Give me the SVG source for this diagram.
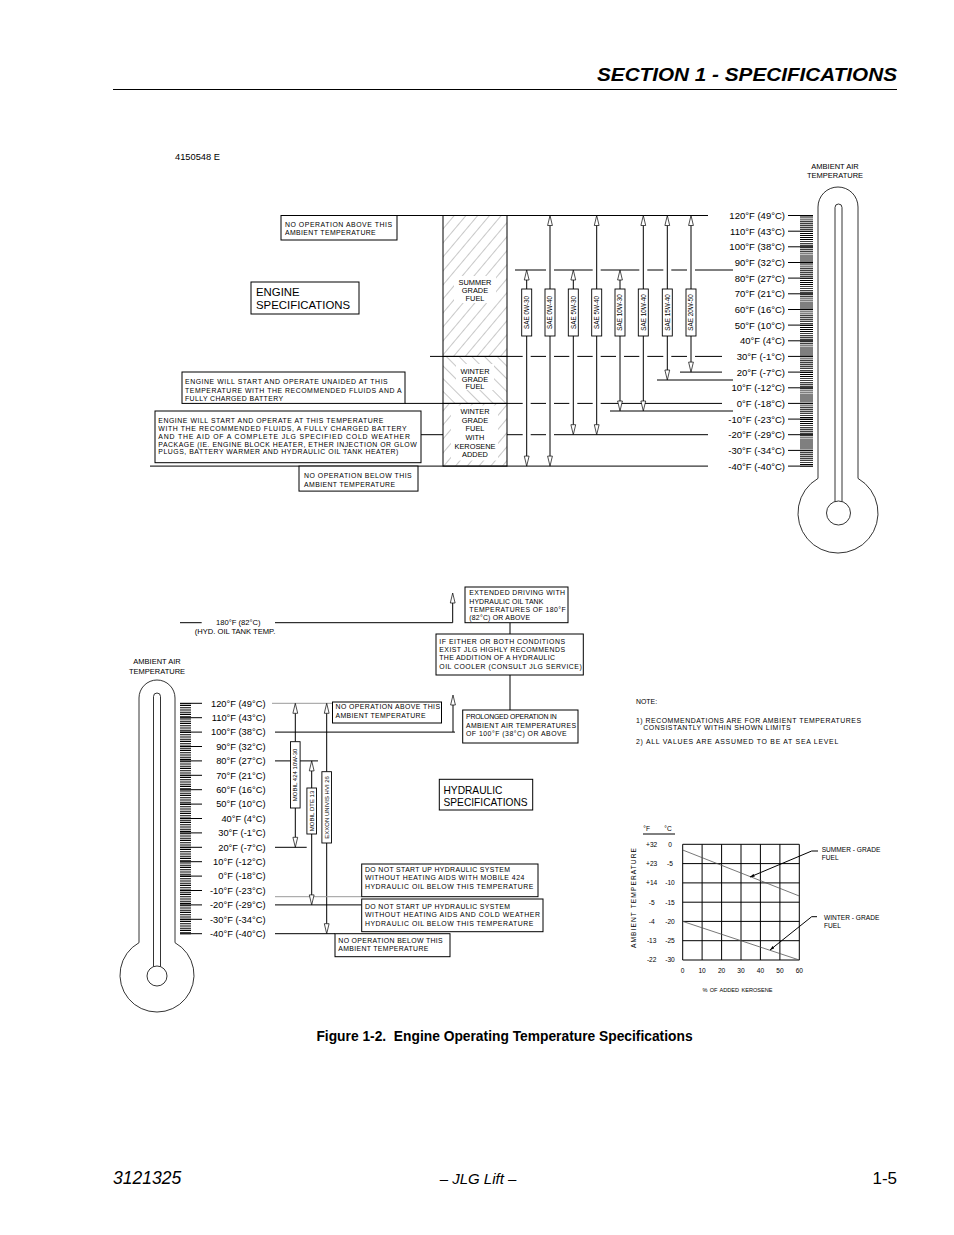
<svg xmlns="http://www.w3.org/2000/svg" width="954" height="1235" viewBox="0 0 954 1235">
<defs>
<style>
text{font-family:"Liberation Sans",Arial,sans-serif;fill:#000}
.ln{stroke:#000;stroke-width:1;fill:none}
.gl{stroke:#9a9a9a;stroke-width:1;fill:none}
.bx{fill:#fff;stroke:#000;stroke-width:1}
.bar{fill:#fff;stroke:#000;stroke-width:0.9}
.s{font-size:6.9px}
.tl{font-size:9.5px;text-anchor:end}
.th{font-size:9.3px;text-anchor:end}
.col{font-size:7.4px;text-anchor:middle}
.sae{font-size:6.3px;text-anchor:middle}
.big{font-size:11.4px}
.c{font-size:6.6px;text-anchor:middle}
.amb{font-size:7.5px;text-anchor:middle}
.therm{fill:none;stroke:#000;stroke-width:0.8}
.ch{stroke:#000;stroke-width:1;fill:none}
.cl{stroke:#555;stroke-width:0.8;fill:none}
</style>
<path id="au" d="M0,0 L2.4,10 L-2.4,10 Z" fill="#fff" stroke="#000" stroke-width="0.7"/>
<path id="ad" d="M0,0 L2.4,-10 L-2.4,-10 Z" fill="#fff" stroke="#000" stroke-width="0.7"/>
<pattern id="hf" width="9" height="9" patternUnits="userSpaceOnUse" patternTransform="rotate(40)">
<line x1="0" y1="0" x2="0" y2="9" stroke="#444" stroke-width="0.6"/>
</pattern>
<pattern id="hb" width="9" height="9" patternUnits="userSpaceOnUse" patternTransform="rotate(-45)">
<line x1="0" y1="0" x2="0" y2="9" stroke="#444" stroke-width="0.6"/>
</pattern>
<marker id="sm" viewBox="0 0 6 4" refX="6" refY="2" markerWidth="5" markerHeight="3" orient="auto" markerUnits="userSpaceOnUse">
<path d="M0,0 L6,2 L0,4 Z" fill="#000"/>
</marker>
</defs>
<rect width="954" height="1235" fill="#fff"/>

<g id="page">
<text x="897" y="81" font-size="19" font-weight="bold" font-style="italic" text-anchor="end" textLength="300" lengthAdjust="spacingAndGlyphs">SECTION 1 - SPECIFICATIONS</text>
<line x1="113" y1="89.5" x2="897" y2="89.5" stroke="#000" stroke-width="1"/>
<text x="504.5" y="1041" text-anchor="middle" font-size="13.8" font-weight="bold" xml:space="preserve">Figure 1-2.  Engine Operating Temperature Specifications</text>
<text x="113" y="1184" font-size="17.5" font-style="italic">3121325</text>
<text x="478" y="1184" text-anchor="middle" font-size="15" font-style="italic">– JLG Lift –</text>
<text x="897" y="1184" text-anchor="end" font-size="17">1-5</text>
<text x="175" y="160" font-size="9.3">4150548 E</text>
</g>

<!-- ENGINE CONNECTORS -->
<g id="engine-connectors" class="ln">
<path d="M397,215.5 H708"/>
<path d="M515,270 H546 M554,270 H592.7 M600.7,270 H639.3 M647.3,270 H663.3 M671.3,270 H687 M695,270 H733"/>
<path d="M430,356.4 H443 M507,356.4 H522.7 M530.7,356.4 H546 M554,356.4 H569.3 M577.3,356.4 H592.7 M600.7,356.4 H616 M624,356.4 H639.3 M647.3,356.4 H663.3 M671.3,356.4 H687 M695,356.4 H722"/>
<path d="M680,372.1 H722"/>
<path d="M657,380 H733"/>
<path d="M405,403.4 H443 M507,403.4 H522.7 M530.7,403.4 H546 M554,403.4 H569.3 M577.3,403.4 H592.7 M600.7,403.4 H722"/>
<path d="M610,411 H733"/>
<path d="M421,434.7 H443 M507,434.7 H522.7 M530.7,434.7 H546 M554,434.7 H708"/>
<path d="M150,466.1 H708"/>
<path d="M526.7,280 V289 M526.7,336 V456.1"/>
<path d="M550,225.5 V289 M550,336 V456.1"/>
<path d="M573.3,280 V289 M573.3,336 V424.7"/>
<path d="M596.7,225.5 V289 M596.7,336 V424.7"/>
<path d="M620,280 V289 M620,336 V401"/>
<path d="M643.3,225.5 V289 M643.3,336 V401"/>
<path d="M667.3,225.5 V289 M667.3,336 V370"/>
<path d="M691,225.5 V289 M691,336 V362.1"/>
</g>
<g id="engine-arrows">
<use href="#au" x="526.7" y="270"/>
<use href="#au" x="550" y="215.5"/>
<use href="#au" x="573.3" y="270"/>
<use href="#au" x="596.7" y="215.5"/>
<use href="#au" x="620" y="270"/>
<use href="#au" x="643.3" y="215.5"/>
<use href="#au" x="667.3" y="215.5"/>
<use href="#au" x="691" y="215.5"/>
<use href="#ad" x="526.7" y="466.1"/>
<use href="#ad" x="550" y="466.1"/>
<use href="#ad" x="573.3" y="434.7"/>
<use href="#ad" x="596.7" y="434.7"/>
<use href="#ad" x="620" y="411"/>
<use href="#ad" x="643.3" y="411"/>
<use href="#ad" x="667.3" y="380"/>
<use href="#ad" x="691" y="372.1"/>
</g>

<!-- SAE bars -->
<g id="sae-0w30"><rect class="bar" x="521.7" y="289" width="10" height="47"/><text class="sae" transform="translate(528.9,312.5) rotate(-90)">SAE 0W-30</text></g>
<g id="sae-0w40"><rect class="bar" x="545" y="289" width="10" height="47"/><text class="sae" transform="translate(552.2,312.5) rotate(-90)">SAE 0W-40</text></g>
<g id="sae-5w30"><rect class="bar" x="568.3" y="289" width="10" height="47"/><text class="sae" transform="translate(575.5,312.5) rotate(-90)">SAE 5W-30</text></g>
<g id="sae-5w40"><rect class="bar" x="591.7" y="289" width="10" height="47"/><text class="sae" transform="translate(598.9,312.5) rotate(-90)">SAE 5W-40</text></g>
<g id="sae-10w30"><rect class="bar" x="615" y="289" width="10" height="47"/><text class="sae" transform="translate(622.2,312.5) rotate(-90)">SAE 10W-30</text></g>
<g id="sae-10w40"><rect class="bar" x="638.3" y="289" width="10" height="47"/><text class="sae" transform="translate(645.5,312.5) rotate(-90)">SAE 10W-40</text></g>
<g id="sae-15w40"><rect class="bar" x="662.3" y="289" width="10" height="47"/><text class="sae" transform="translate(669.5,312.5) rotate(-90)">SAE 15W-40</text></g>
<g id="sae-20w50"><rect class="bar" x="686" y="289" width="10" height="47"/><text class="sae" transform="translate(693.2,312.5) rotate(-90)">SAE 20W-50</text></g>

<!-- Fuel column -->
<g id="fuel-summer">
<rect x="443" y="215.5" width="64" height="140.9" fill="url(#hf)" stroke="#000" stroke-width="1"/>
<rect x="454" y="276" width="42" height="27" fill="#fff"/>
<text class="col" x="475" y="285.2">SUMMER</text>
<text class="col" x="475" y="293.2">GRADE</text>
<text class="col" x="475" y="301.2">FUEL</text>
</g>
<g id="fuel-winter">
<rect x="443" y="356.4" width="64" height="47" fill="url(#hb)" stroke="#000" stroke-width="1"/>
<rect x="456" y="364" width="38" height="26" fill="#fff"/>
<text class="col" x="475" y="373.5">WINTER</text>
<text class="col" x="475" y="381.5">GRADE</text>
<text class="col" x="475" y="389.2">FUEL</text>
</g>
<g id="fuel-kerosene">
<rect x="443" y="403.4" width="64" height="62.7" fill="url(#hf)" stroke="#000" stroke-width="1"/>
<rect x="451" y="405.5" width="47" height="55" fill="#fff"/>
<text class="col" x="475" y="414.2">WINTER</text>
<text class="col" x="475" y="422.5">GRADE</text>
<text class="col" x="475" y="430.8">FUEL</text>
<text class="col" x="475" y="439.8">WITH</text>
<text class="col" x="475" y="448.5">KEROSENE</text>
<text class="col" x="475" y="456.8">ADDED</text>
</g>

<!-- Engine boxes -->
<g id="eng-no-op-above">
<rect class="bx" x="281" y="215.5" width="116" height="24.5"/>
<text class="s" x="285" y="226.5" textLength="107" lengthAdjust="spacing">NO OPERATION ABOVE THIS</text>
<text class="s" x="285" y="234.8" textLength="90.7" lengthAdjust="spacing">AMBIENT TEMPERATURE</text>
</g>
<g id="engine-spec">
<rect class="bx" x="251" y="282" width="108" height="32"/>
<text class="big" x="256" y="296">ENGINE</text>
<text class="big" x="256" y="309.3">SPECIFICATIONS</text>
</g>
<g id="eng-unaided">
<rect class="bx" x="182" y="372" width="223" height="31.4"/>
<text class="s" x="185" y="384.2" textLength="202.7" lengthAdjust="spacing">ENGINE WILL START AND OPERATE UNAIDED AT THIS</text>
<text class="s" x="185" y="392.5" textLength="216.7" lengthAdjust="spacing">TEMPERATURE WITH THE RECOMMENDED FLUIDS AND A</text>
<text class="s" x="185" y="400.8" textLength="98" lengthAdjust="spacing">FULLY CHARGED BATTERY</text>
</g>
<g id="eng-cold-package">
<rect class="bx" x="155" y="411" width="266" height="51.7"/>
<text class="s" x="158.3" y="422.5" textLength="225" lengthAdjust="spacing">ENGINE WILL START AND OPERATE AT THIS TEMPERATURE</text>
<text class="s" x="158.3" y="430.8" textLength="248.4" lengthAdjust="spacing">WITH THE RECOMMENDED FLUIDS, A FULLY CHARGED BATTERY</text>
<text class="s" x="158.3" y="439.2" textLength="251.7" lengthAdjust="spacing">AND THE AID OF A COMPLETE JLG SPECIFIED COLD WEATHER</text>
<text class="s" x="158.3" y="446.5" textLength="258.4" lengthAdjust="spacing">PACKAGE (IE. ENGINE BLOCK HEATER, ETHER INJECTION OR GLOW</text>
<text class="s" x="158.3" y="454.2" textLength="240" lengthAdjust="spacing">PLUGS, BATTERY WARMER AND HYDRAULIC OIL TANK HEATER)</text>
</g>
<g id="eng-no-op-below">
<rect class="bx" x="299" y="466.1" width="119" height="25"/>
<text class="s" x="304" y="477.5" textLength="107.7" lengthAdjust="spacing">NO OPERATION BELOW THIS</text>
<text class="s" x="304" y="486.5" textLength="91" lengthAdjust="spacing">AMBIENT TEMPERATURE</text>
</g>

<!-- Engine thermometer -->
<g id="engine-thermometer">
<text class="amb" x="835" y="168.7">AMBIENT AIR</text>
<text class="amb" x="835" y="177.7">TEMPERATURE</text>
<path class="therm" d="M818,478.4 V207 A20,20 0 0 1 858,207 V478.4 A40,40 0 1 1 818,478.4"/>
<path class="therm" d="M835,501.4 V207.5 A3.5,3.5 0 0 1 842,207.5 V501.4"/>
<circle class="therm" cx="838.5" cy="513" r="12"/>
<line x1="806.5" y1="215.5" x2="806.5" y2="466.6" stroke="#000" stroke-width="13" stroke-dasharray="0.9 1.0575"/>
<path class="ln" d="M788,215.5 H813 M788,231.2 H813 M788,246.8 H813 M788,262.5 H813 M788,278.1 H813 M788,293.8 H813 M788,309.5 H813 M788,325.1 H813 M788,340.8 H813 M788,356.4 H813 M788,372.1 H813 M788,387.8 H813 M788,403.4 H813 M788,419.1 H813 M788,434.7 H813 M788,450.4 H813 M788,466.1 H813"/>
<g xml:space="preserve">
<text class="tl" x="785" y="218.9">120°F  (49°C)</text>
<text class="tl" x="785" y="234.6">110°F  (43°C)</text>
<text class="tl" x="785" y="250.2">100°F  (38°C)</text>
<text class="tl" x="785" y="265.9">90°F  (32°C)</text>
<text class="tl" x="785" y="281.5">80°F  (27°C)</text>
<text class="tl" x="785" y="297.2">70°F  (21°C)</text>
<text class="tl" x="785" y="312.9">60°F  (16°C)</text>
<text class="tl" x="785" y="328.5">50°F  (10°C)</text>
<text class="tl" x="785" y="344.2">40°F  (4°C)</text>
<text class="tl" x="785" y="359.8">30°F  (-1°C)</text>
<text class="tl" x="785" y="375.5">20°F  (-7°C)</text>
<text class="tl" x="785" y="391.2">10°F  (-12°C)</text>
<text class="tl" x="785" y="406.8">0°F  (-18°C)</text>
<text class="tl" x="785" y="422.5">-10°F  (-23°C)</text>
<text class="tl" x="785" y="438.1">-20°F  (-29°C)</text>
<text class="tl" x="785" y="453.8">-30°F  (-34°C)</text>
<text class="tl" x="785" y="469.5">-40°F  (-40°C)</text>
</g>
</g>

<!-- HYDRAULIC CONNECTORS -->
<g id="hydraulic-connectors" class="ln">
<path d="M180,622.7 H201.7 M275,622.7 H452.7"/>
<path d="M452.7,603 V622.7"/>
<path d="M510,622.7 V634 M510,675 V710"/>
<path d="M453,705 V732.1"/>
<path d="M275,732.1 H455"/>
<path d="M275,760.9 H318"/>
<path d="M275,847.3 H306.7"/>
<path d="M275,904.9 H361.7"/>
<path d="M275,933.7 H335"/>
<path d="M295.3,713.3 V741.7 M295.3,808 V837.3"/>
<path d="M311.7,770.9 V788 M311.7,834 V894.9"/>
<path d="M326.7,713.3 V771.7 M326.7,843 V923.7"/>
</g>
<g id="hydraulic-grey" class="gl">
<path d="M272,703.3 H332.5"/>
<path d="M275,896.7 H361.7"/>
</g>
<g id="hydraulic-arrows">
<use href="#au" x="452.7" y="593"/>
<use href="#au" x="453" y="695"/>
<use href="#au" x="295.3" y="703.3"/>
<use href="#au" x="326.7" y="703.3"/>
<use href="#au" x="311.7" y="760.9"/>
<use href="#ad" x="295.3" y="847.3"/>
<use href="#ad" x="311.7" y="904.9"/>
<use href="#ad" x="326.7" y="933.7"/>
</g>

<g id="oil-mobil424"><rect class="bar" x="290.5" y="741.7" width="9.6" height="66.3"/><text font-size="6" text-anchor="middle" transform="translate(297.4,774.9) rotate(-90)">MOBIL 424 10W-30</text></g>
<g id="oil-dte13"><rect class="bar" x="306.9" y="788" width="9.6" height="46"/><text font-size="6" text-anchor="middle" transform="translate(313.8,811) rotate(-90)">MOBIL DTE 13</text></g>
<g id="oil-exxon"><rect class="bar" x="321.9" y="771.7" width="9.6" height="71.3"/><text font-size="6" text-anchor="middle" transform="translate(328.8,807.4) rotate(-90)">EXXON UNIVIS HVI 26</text></g>

<g id="hyd-tank-temp" xml:space="preserve">
<text font-size="7.6" text-anchor="middle" x="238.3" y="624.5">180°F  (82°C)</text>
<text font-size="7.6" text-anchor="middle" x="235" y="633.5">(HYD.  OIL  TANK  TEMP.</text>
</g>

<g id="hyd-extended">
<rect class="bx" x="465" y="587" width="103" height="35.7"/>
<text class="s" x="469.3" y="595.2" textLength="95.7" lengthAdjust="spacing">EXTENDED DRIVING WITH</text>
<text class="s" x="469.3" y="603.5" textLength="74" lengthAdjust="spacing">HYDRAULIC OIL TANK</text>
<text class="s" x="469.3" y="611.8" textLength="96.4" lengthAdjust="spacing">TEMPERATURES OF 180°F</text>
<text class="s" x="469.3" y="620.2" textLength="60.7" lengthAdjust="spacing">(82°C) OR ABOVE</text>
</g>
<g id="hyd-cooler">
<rect class="bx" x="436" y="634" width="147.3" height="41"/>
<text class="s" x="439.3" y="643.5" textLength="125.7" lengthAdjust="spacing">IF EITHER OR BOTH CONDITIONS</text>
<text class="s" x="439.3" y="651.8" textLength="125.7" lengthAdjust="spacing">EXIST JLG HIGHLY RECOMMENDS</text>
<text class="s" x="439.3" y="660.2" textLength="115.7" lengthAdjust="spacing">THE ADDITION OF A HYDRAULIC</text>
<text class="s" x="439.3" y="668.5" textLength="142.4" lengthAdjust="spacing">OIL COOLER (CONSULT JLG SERVICE)</text>
</g>
<g id="hyd-prolonged">
<rect class="bx" x="462.7" y="710" width="115.3" height="33"/>
<text class="s" x="466" y="719.2" textLength="90.7" lengthAdjust="spacing">PROLONGED OPERATION IN</text>
<text class="s" x="466" y="727.5" textLength="110" lengthAdjust="spacing">AMBIENT AIR TEMPERATURES</text>
<text class="s" x="466" y="735.8" textLength="100.7" lengthAdjust="spacing">OF 100°F (38°C) OR ABOVE</text>
</g>
<g id="hyd-no-op-above">
<rect class="bx" x="332.5" y="702" width="109" height="21"/>
<text class="s" x="335.5" y="709.4" textLength="104.5" lengthAdjust="spacing">NO OPERATION ABOVE THIS</text>
<text class="s" x="335.5" y="717.7" textLength="90" lengthAdjust="spacing">AMBIENT TEMPERATURE</text>
</g>
<g id="hydraulic-spec">
<rect class="bx" x="439.3" y="779.3" width="93.4" height="30.7"/>
<text font-size="10.2" x="443.5" y="793.7">HYDRAULIC</text>
<text font-size="10.2" x="443.5" y="806.4">SPECIFICATIONS</text>
</g>
<g id="hyd-mobile424-warn">
<rect class="bx" x="361.7" y="864" width="176.3" height="32.7"/>
<text class="s" x="365" y="871.8" textLength="145" lengthAdjust="spacing">DO NOT START UP HYDRAULIC SYSTEM</text>
<text class="s" x="365" y="880.2" textLength="159.3" lengthAdjust="spacing">WITHOUT HEATING AIDS WITH MOBILE 424</text>
<text class="s" x="365" y="888.5" textLength="168.3" lengthAdjust="spacing">HYDRAULIC OIL BELOW THIS TEMPERATURE</text>
</g>
<g id="hyd-cold-warn">
<rect class="bx" x="361.7" y="899" width="181.3" height="32.7"/>
<text class="s" x="365" y="908.5" textLength="145" lengthAdjust="spacing">DO NOT START UP HYDRAULIC SYSTEM</text>
<text class="s" x="365" y="916.8" textLength="175" lengthAdjust="spacing">WITHOUT HEATING AIDS AND COLD WEATHER</text>
<text class="s" x="365" y="925.8" textLength="168.3" lengthAdjust="spacing">HYDRAULIC OIL BELOW THIS TEMPERATURE</text>
</g>
<g id="hyd-no-op-below">
<rect class="bx" x="335" y="933.7" width="115" height="23"/>
<text class="s" x="338.3" y="942.5" textLength="104.4" lengthAdjust="spacing">NO OPERATION BELOW THIS</text>
<text class="s" x="338.3" y="950.8" textLength="90" lengthAdjust="spacing">AMBIENT TEMPERATURE</text>
</g>

<!-- Hydraulic thermometer -->
<g id="hydraulic-thermometer">
<text class="amb" x="157" y="663.7">AMBIENT AIR</text>
<text class="amb" x="157" y="673.7">TEMPERATURE</text>
<path class="therm" d="M139,942.7 V698 A18,18 0 0 1 175,698 V942.7 A37,37 0 1 1 139,942.7"/>
<path class="therm" d="M153.5,966.5 V696.5 A3.5,3.5 0 0 1 160.5,696.5 V966.5"/>
<circle class="therm" cx="157" cy="976" r="10"/>
<line x1="185.5" y1="703.3" x2="185.5" y2="934.2" stroke="#000" stroke-width="11" stroke-dasharray="0.85 0.95"/>
<path class="ln" d="M180,703.3 H202 M180,717.7 H202 M180,732.1 H202 M180,746.5 H202 M180,760.9 H202 M180,775.3 H202 M180,789.7 H202 M180,804.1 H202 M180,818.5 H202 M180,832.9 H202 M180,847.3 H202 M180,861.7 H202 M180,876.1 H202 M180,890.5 H202 M180,904.9 H202 M180,919.3 H202 M180,933.7 H202"/>
<g xml:space="preserve">
<text class="th" x="265.5" y="706.6">120°F  (49°C)</text>
<text class="th" x="265.5" y="721">110°F  (43°C)</text>
<text class="th" x="265.5" y="735.4">100°F  (38°C)</text>
<text class="th" x="265.5" y="749.8">90°F  (32°C)</text>
<text class="th" x="265.5" y="764.2">80°F  (27°C)</text>
<text class="th" x="265.5" y="778.6">70°F  (21°C)</text>
<text class="th" x="265.5" y="793">60°F  (16°C)</text>
<text class="th" x="265.5" y="807.4">50°F  (10°C)</text>
<text class="th" x="265.5" y="821.8">40°F  (4°C)</text>
<text class="th" x="265.5" y="836.2">30°F  (-1°C)</text>
<text class="th" x="265.5" y="850.6">20°F  (-7°C)</text>
<text class="th" x="265.5" y="865">10°F  (-12°C)</text>
<text class="th" x="265.5" y="879.4">0°F  (-18°C)</text>
<text class="th" x="265.5" y="893.8">-10°F  (-23°C)</text>
<text class="th" x="265.5" y="908.2">-20°F  (-29°C)</text>
<text class="th" x="265.5" y="922.6">-30°F  (-34°C)</text>
<text class="th" x="265.5" y="937">-40°F  (-40°C)</text>
</g>
</g>

<!-- Notes -->
<g id="notes">
<text class="s" x="636" y="704.4">NOTE:</text>
<text class="s" x="636" y="723" textLength="225" lengthAdjust="spacing">1) RECOMMENDATIONS ARE FOR AMBIENT TEMPERATURES</text>
<text class="s" x="643.3" y="730.3" textLength="147.4" lengthAdjust="spacing">CONSISTANTLY WITHIN SHOWN LIMITS</text>
<text class="s" x="636" y="744.3" textLength="202.3" lengthAdjust="spacing">2) ALL VALUES ARE ASSUMED TO BE AT SEA LEVEL</text>
</g>

<!-- Kerosene chart -->
<g id="kerosene-chart">
<text class="c" x="646.7" y="830.5">°F</text>
<text class="c" x="668" y="830.5">°C</text>
<path class="ch" d="M643,834 H675"/>
<path class="ch" d="M682.7,844.3 V960 M702.1,844.3 V960 M721.6,844.3 V960 M741,844.3 V960 M760.4,844.3 V960 M779.9,844.3 V960 M799.3,844.3 V960 M682.7,844.3 H799.3 M682.7,863.6 H799.3 M682.7,882.9 H799.3 M682.7,902.2 H799.3 M682.7,921.4 H799.3 M682.7,940.7 H799.3 M682.7,960 H799.3"/>
<path class="cl" d="M682.7,850 L799.3,896"/>
<path class="cl" d="M682.7,921.4 L799.3,960"/>
<text class="c" x="651.7" y="846.7">+32</text>
<text class="c" x="651.7" y="866">+23</text>
<text class="c" x="651.7" y="885.3">+14</text>
<text class="c" x="651.7" y="904.6">-5</text>
<text class="c" x="651.7" y="923.8">-4</text>
<text class="c" x="651.7" y="943.1">-13</text>
<text class="c" x="651.7" y="962.4">-22</text>
<text class="c" x="670" y="846.7">0</text>
<text class="c" x="670" y="866">-5</text>
<text class="c" x="670" y="885.3">-10</text>
<text class="c" x="670" y="904.6">-15</text>
<text class="c" x="670" y="923.8">-20</text>
<text class="c" x="670" y="943.1">-25</text>
<text class="c" x="670" y="962.4">-30</text>
<text class="c" x="682.7" y="972.5">0</text>
<text class="c" x="702.1" y="972.5">10</text>
<text class="c" x="721.6" y="972.5">20</text>
<text class="c" x="741" y="972.5">30</text>
<text class="c" x="760.4" y="972.5">40</text>
<text class="c" x="779.9" y="972.5">50</text>
<text class="c" x="799.3" y="972.5">60</text>
<text x="737.5" y="991.5" font-size="5.6" text-anchor="middle" word-spacing="0.8">% OF ADDED KEROSENE</text>
<text font-size="6.6" transform="translate(635.5,948) rotate(-90)" textLength="100" lengthAdjust="spacing">AMBIENT TEMPERATURE</text>
<path class="ch" stroke-width="0.7" d="M818,851 H811.7 L750,877" marker-end="url(#sm)"/>
<path class="ch" stroke-width="0.7" d="M817,916.7 H811.7 L770,950" marker-end="url(#sm)"/>
<text font-size="6.6" x="821.7" y="851.5">SUMMER - GRADE</text>
<text font-size="6.6" x="821.7" y="860">FUEL</text>
<text font-size="6.6" x="824" y="919.5">WINTER - GRADE</text>
<text font-size="6.6" x="824" y="928">FUEL</text>
</g>
</svg>
